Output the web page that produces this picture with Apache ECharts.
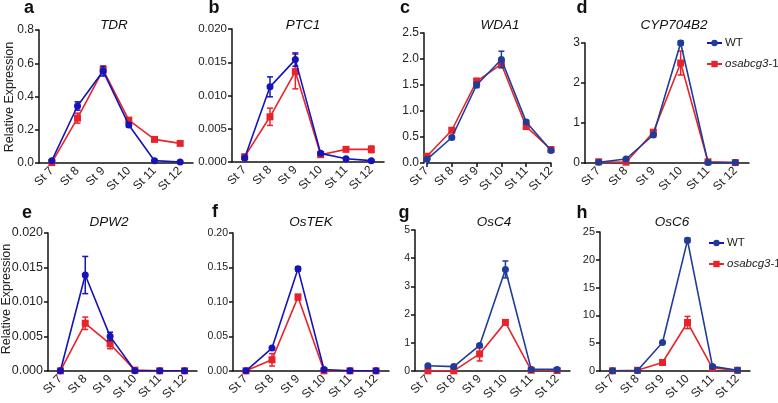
<!DOCTYPE html>
<html><head><meta charset="utf-8">
<script src="https://cdn.jsdelivr.net/npm/echarts@6/dist/echarts.min.js"></script>
<style>html,body{margin:0;padding:0;background:#fff}#c{width:778px;height:403px}</style>
</head><body><div id="c"></div>
<script>
var categories = ['St 7','St 8','St 9','St 10','St 11','St 12'];
var seriesNames = ['WT','osabcg3-1'];
var geneNames = ['TDR','PTC1','WDA1','CYP704B2','DPW2','OsTEK','OsC4','OsC6'];
var panelLetters = ['a','b','c','d','e','f','g','h'];

var tdrWT = [0.014,0.343,0.553,0.229,0.014,0.006];
var tdrWTsd = [0.005,0.025,0.03,0.012,0.004,0.003];
var tdrMut = [0.002,0.27,0.56,0.258,0.142,0.118];
var tdrMutSd = [0.002,0.03,0.02,0.01,0.008,0.008];

var ptc1WT = [0.0006,0.0113,0.0154,0.0013,0.0005,0.0002];
var ptc1WTsd = [0.0002,0.0015,0.001,0.0002,0.0001,0.0001];
var ptc1Mut = [0.0008,0.0068,0.0136,0.0011,0.0019,0.0019];
var ptc1MutSd = [0.0002,0.0013,0.0026,0.0003,0.0002,0.0005];

var wda1WT = [0.07,0.49,1.5,1.99,0.79,0.24];
var wda1WTsd = [0.02,0.03,0.05,0.16,0.03,0.03];
var wda1Mut = [0.13,0.63,1.57,1.9,0.7,0.26];
var wda1MutSd = [0.02,0.04,0.06,0.06,0.03,0.03];

var cypWT = [0.02,0.1,0.7,3.0,0.01,0.01];
var cypWTsd = [0.01,0.02,0.04,0.05,0.005,0.005];
var cypMut = [0.03,0.02,0.77,2.5,0.03,0.01];
var cypMutSd = [0.01,0.01,0.05,0.3,0.01,0.005];

var dpw2WT = [0,0.0139,0.005,0,0,0];
var dpw2WTsd = [0,0.0027,0.0006,0,0,0];
var dpw2Mut = [0,0.0069,0.0039,0.0001,0,0];
var dpw2MutSd = [0,0.0009,0.0007,0,0,0];

var tekWT = [0,0.033,0.148,0.002,0,0];
var tekWTsd = [0,0.002,0.003,0.001,0,0];
var tekMut = [0,0.016,0.107,0,0,0];
var tekMutSd = [0,0.009,0.004,0,0,0];

var c4WT = [0.18,0.15,0.9,3.6,0.05,0.05];
var c4WTsd = [0.03,0.03,0.05,0.3,0.02,0.02];
var c4Mut = [0,0,0.6,1.72,0.02,0.01];
var c4MutSd = [0,0,0.25,0.08,0,0];

var c6WT = [0,0.05,5.1,23.5,0.8,0.1];
var c6WTsd = [0,0,0.1,0.4,0.1,0];
var c6Mut = [0,0.1,1.5,8.7,0.5,0.1];
var c6MutSd = [0,0,0.2,1.1,0.1,0];

var yMax = [0.8,0.020,2.5,3,0.020,0.20,5,25];
var yStep = [0.2,0.005,0.5,1,0.005,0.05,1,5];
var yDecimals = [1,3,1,0,3,2,0,0];

var FONT = 'Liberation Sans, Arial, sans-serif';
var RED = '#e8232a';
var BLUE1 = '#1414b8';
var BLUE2 = '#1f3c98';

var panels = [
  {L:39,R:193,T:30,B:163,bg:true,wt:tdrWT,wtsd:tdrWTsd,mu:tdrMut,musd:tdrMutSd,blue:BLUE1,fs:12,lx:29,ly:8,tx:114,ty:25},
  {L:232,R:384,T:29,B:162,bg:true,wt:ptc1WT,wtsd:ptc1WTsd,mu:ptc1Mut,musd:ptc1MutSd,blue:BLUE1,fs:11.5,lx:214,ly:8,tx:303,ty:25},
  {L:427,R:551,T:33,B:163,bg:false,off:3,wt:wda1WT,wtsd:wda1WTsd,mu:wda1Mut,musd:wda1MutSd,blue:BLUE2,fs:12,lx:405,ly:8,tx:500,ty:25},
  {L:585,R:749,T:43,B:163,bg:true,wt:cypWT,wtsd:cypWTsd,mu:cypMut,musd:cypMutSd,blue:BLUE2,fs:12,lx:582,ly:8,tx:674,ty:25},
  {L:48,R:197,T:233,B:371,bg:true,wt:dpw2WT,wtsd:dpw2WTsd,mu:dpw2Mut,musd:dpw2MutSd,blue:BLUE1,fs:12.5,lx:27,ly:213,tx:109,ty:222},
  {L:233,R:389,T:233,B:373,bg:true,wt:tekWT,wtsd:tekWTsd,mu:tekMut,musd:tekMutSd,blue:BLUE1,fs:10.5,lx:215,ly:212,tx:311,ty:222},
  {L:415,R:570,T:230,B:371,bg:true,wt:c4WT,wtsd:c4WTsd,mu:c4Mut,musd:c4MutSd,blue:BLUE2,fs:10.5,lx:404,ly:213,tx:494,ty:222},
  {L:600,R:750,T:232,B:371,bg:true,wt:c6WT,wtsd:c6WTsd,mu:c6Mut,musd:c6MutSd,blue:BLUE2,fs:11,lx:582,ly:213,tx:672,ty:222}
];

var grid=[],xAxis=[],yAxis=[],series=[],graphic=[],legend=[];

function errData(vals, sds){
  var out=[];
  for(var i=0;i<vals.length;i++){ if(sds[i]>0) out.push([i, vals[i]-sds[i], vals[i]+sds[i]]); }
  return out;
}
function errSeries(idx, data, color){
  return {type:'custom', xAxisIndex:idx, yAxisIndex:idx, data:data, z:3, silent:true,
    renderItem:function(params, api){
      var x=api.value(0);
      var p1=api.coord([x, api.value(2)]), p2=api.coord([x, api.value(1)]);
      var w=3;
      var st={stroke:color, lineWidth:1.5};
      return {type:'group', children:[
        {type:'line', shape:{x1:p1[0],y1:p1[1],x2:p2[0],y2:p2[1]}, style:st},
        {type:'line', shape:{x1:p1[0]-w,y1:p1[1],x2:p1[0]+w,y2:p1[1]}, style:st},
        {type:'line', shape:{x1:p2[0]-w,y1:p2[1],x2:p2[0]+w,y2:p2[1]}, style:st}
      ]};
    }};
}

panels.forEach(function(p, i){
  grid.push({left:p.L, top:p.T, width:p.R-p.L, height:p.B-p.T, containLabel:false});
  xAxis.push({type:'category', gridIndex:i, data:categories, boundaryGap:p.bg,
    axisLine:{lineStyle:{color:'#111', width:1.5}},
    axisTick:{alignWithLabel:true, length:4, lineStyle:{color:'#111', width:1.5}},
    axisLabel:{rotate:45, interval:0, fontSize:12, color:'#222', fontFamily:FONT, margin:6},
    splitLine:{show:false}});
  var dec=yDecimals[i];
  yAxis.push({type:'value', gridIndex:i, min:0, max:yMax[i], interval:yStep[i], offset:p.off||0,
    axisLine:{show:true, lineStyle:{color:'#111', width:1.5}},
    axisTick:{show:true, length:4, lineStyle:{color:'#111', width:1.5}},
    axisLabel:{fontSize:p.fs, color:'#222', fontFamily:FONT, margin:5,
      formatter:function(v){return v.toFixed(dec);}},
    splitLine:{show:false}});
  series.push({name:seriesNames[1], type:'line', xAxisIndex:i, yAxisIndex:i, data:p.mu,
    symbol:'rect', symbolSize:7, lineStyle:{color:RED, width:1.6}, itemStyle:{color:RED}, z:2});
  series.push(errSeries(i, errData(p.mu, p.musd), RED));
  series.push({name:seriesNames[0], type:'line', xAxisIndex:i, yAxisIndex:i, data:p.wt,
    symbol:'circle', symbolSize:7, lineStyle:{color:p.blue, width:1.6}, itemStyle:{color:p.blue}, z:4});
  series.push(errSeries(i, errData(p.wt, p.wtsd), p.blue));
  graphic.push({type:'text', x:p.lx, y:p.ly, style:{text:panelLetters[i], font:'bold 18px '+FONT, fill:'#111', align:'center', verticalAlign:'middle'}});
  graphic.push({type:'text', x:p.tx, y:p.ty, style:{text:geneNames[i], font:'italic 13.5px '+FONT, fill:'#111', align:'center', verticalAlign:'middle'}});
});

graphic.push({type:'text', x:10, y:97, rotation:Math.PI/2, style:{text:'Relative Expression', font:'12.5px '+FONT, fill:'#222', align:'center', verticalAlign:'middle'}});
graphic.push({type:'text', x:7, y:299, rotation:Math.PI/2, style:{text:'Relative Expression', font:'12.5px '+FONT, fill:'#222', align:'center', verticalAlign:'middle'}});

function mkLegend(left, top, blue){
  return {left:left, top:top, orient:'vertical', itemWidth:15, itemHeight:8, itemGap:9, padding:0,
    data:[{name:seriesNames[0], itemStyle:{color:blue}}, {name:seriesNames[1]}],
    selectedMode:false,
    textStyle:{fontSize:11.5, color:'#222', fontFamily:FONT, padding:[0,0,0,-2],
      rich:{i:{fontStyle:'italic', fontSize:11.5, fontFamily:FONT, color:'#222'}}},
    formatter:function(n){ return n==='WT' ? 'WT' : '{i|osabcg3}-1'; }};
}
legend.push(mkLegend(706, 37, BLUE2));
legend.push(mkLegend(708, 237, BLUE2));

var chart = echarts.init(document.getElementById('c'), null, {renderer:'canvas'});
chart.setOption({animation:false, grid:grid, xAxis:xAxis, yAxis:yAxis, series:series, graphic:graphic, legend:legend});
</script>
</body></html>
